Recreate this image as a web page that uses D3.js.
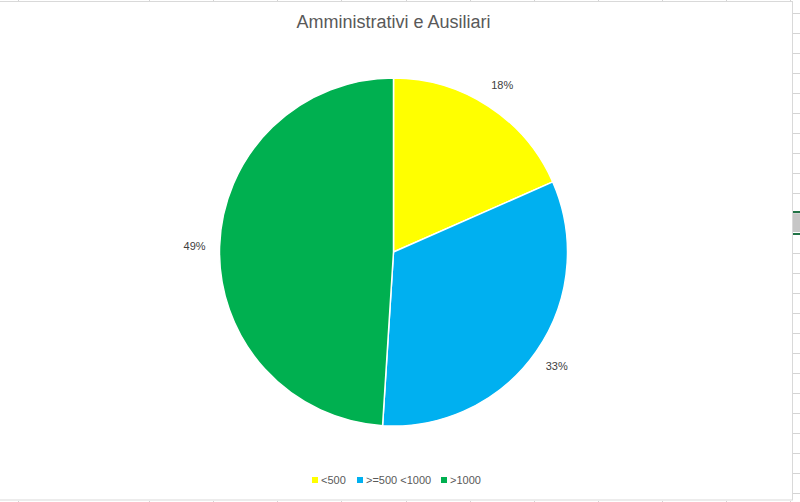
<!DOCTYPE html>
<html>
<head>
<meta charset="utf-8">
<script src="https://cdn.jsdelivr.net/npm/d3@7"></script>
<style>
  body { margin: 0; background: #fff; }
  svg { display: block; font-family: "Liberation Sans", Arial, sans-serif; }
</style>
</head>
<body>
<div id="chart"></div>
<script>
var categories = ["<500", ">=500 <1000", ">1000"];
var values = [18.4, 32.6, 49.0];
var labels = ["18%", "33%", "49%"];
var colors = ["#FFFF00", "#00B0F0", "#00B050"];

const width = 800;
const height = 502;
const cx = 393.5, cy = 252, radius = 174;

const svg = d3.select("#chart")
  .append("svg")
  .attr("width", width)
  .attr("height", height);

// spreadsheet grid peeking around the chart frame
const grid = svg.append("g").attr("stroke", "#d4d4d4").attr("stroke-width", 1);
var colLines = [18, 149, 213, 277, 341, 406, 470, 534, 598, 662, 726, 790];
colLines.forEach(function (x) {
  grid.append("line").attr("x1", x + 0.5).attr("x2", x + 0.5).attr("y1", 0).attr("y2", 1);
  grid.append("line").attr("x1", x + 0.5).attr("x2", x + 0.5).attr("y1", 501).attr("y2", 502);
});
for (var y = 13; y < height; y += 20) {
  grid.append("line").attr("x1", 793).attr("x2", 800).attr("y1", y + 0.5).attr("y2", y + 0.5);
}
svg.append("rect").attr("x", 793).attr("y", 214).attr("width", 7).attr("height", 18).attr("fill", "#c6c6c6");
svg.append("rect").attr("x", 793).attr("y", 211).attr("width", 7).attr("height", 2).attr("fill", "#217346");
svg.append("rect").attr("x", 793).attr("y", 233).attr("width", 7).attr("height", 2).attr("fill", "#217346");

// chart frame
svg.append("rect")
  .attr("x", -1).attr("y", 1.5)
  .attr("width", 793.5).attr("height", 498.5)
  .attr("fill", "#fff")
  .attr("stroke", "#d9d9d9")
  .attr("stroke-width", 1);

svg.append("text")
  .attr("x", cx).attr("y", 28)
  .attr("text-anchor", "middle")
  .attr("font-size", 18)
  .attr("fill", "#595959")
  .text("Amministrativi e Ausiliari");

const pie = d3.pie().sort(null).value(function (d) { return d; });
const arcs = pie(values);
const arc = d3.arc().innerRadius(0).outerRadius(radius);
const labelArc = d3.arc().innerRadius(199).outerRadius(199);

const g = svg.append("g").attr("transform", "translate(" + cx + "," + cy + ")");

g.selectAll("path")
  .data(arcs)
  .enter()
  .append("path")
  .attr("d", arc)
  .attr("fill", function (d, i) { return colors[i]; })
  .attr("stroke", "#fff")
  .attr("stroke-width", 1.5);

g.selectAll("text")
  .data(arcs)
  .enter()
  .append("text")
  .attr("transform", function (d) { return "translate(" + labelArc.centroid(d) + ")"; })
  .attr("dy", "0.35em")
  .attr("text-anchor", "middle")
  .attr("font-size", 11)
  .attr("fill", "#404040")
  .text(function (d, i) { return labels[i]; });

// legend
var legendX = [312, 357, 441];
const legend = svg.append("g");
categories.forEach(function (c, i) {
  legend.append("rect")
    .attr("x", legendX[i]).attr("y", 477)
    .attr("width", 6).attr("height", 6)
    .attr("fill", colors[i]);
  legend.append("text")
    .attr("x", legendX[i] + 9).attr("y", 480)
    .attr("dy", "0.35em")
    .attr("font-size", 11)
    .attr("fill", "#595959")
    .text(c);
});
</script>
</body>
</html>
